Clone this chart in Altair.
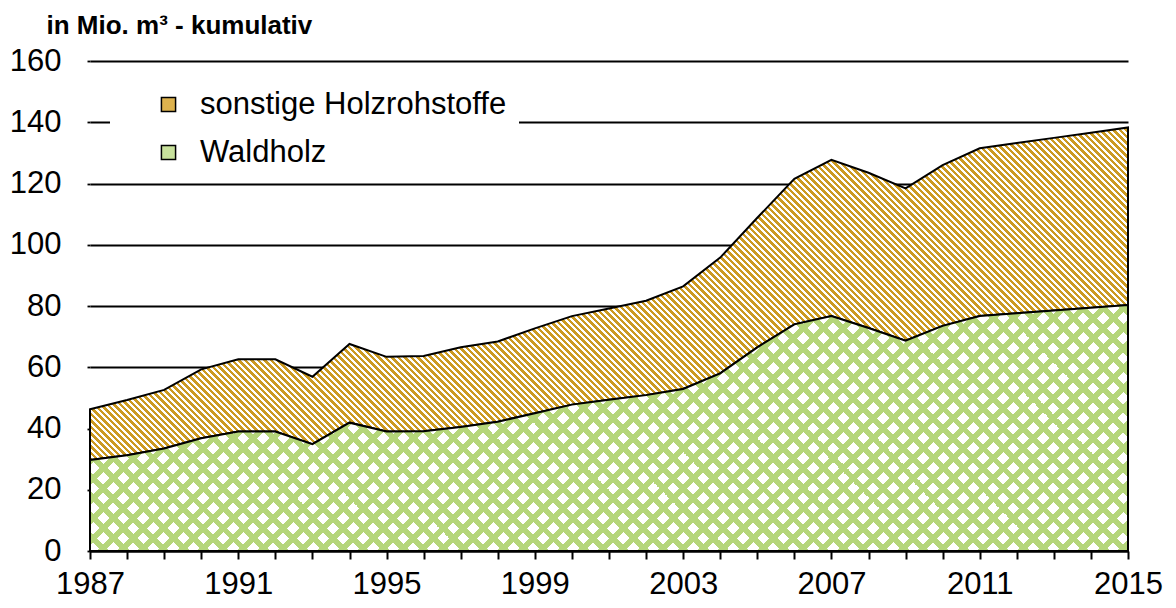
import altair as alt
import pandas as pd

# ---- data ----
years = list(range(1987, 2016))
waldholz = [29.7, 31.3, 33.5, 36.8, 39.0, 39.0, 34.9, 41.9, 39.0, 39.1,
            40.5, 42.2, 45.0, 47.8, 49.4, 50.9, 52.9, 58.0, 66.5, 74.0,
            76.7, 72.8, 68.7, 73.5, 76.7, 77.6, 78.5, 79.4, 80.3]
sonstige = [16.6, 18.0, 19.1, 22.5, 23.6, 23.6, 22.0, 25.7, 24.4, 24.6,
            26.0, 26.2, 27.7, 28.9, 29.8, 30.8, 33.5, 37.8, 42.3, 47.5,
            51.0, 50.7, 49.7, 52.5, 54.8, 55.6, 56.4, 57.2, 58.0]
series_names = ["sonstige Holzrohstoffe", "Waldholz"]
y_ticks = [0, 20, 40, 60, 80, 100, 120, 140, 160]
y_title = "in Mio. m³ - kumulativ"

# ---- styling ----
PLOT_W, PLOT_H = 1038, 490
Y_MAX = 160
GOLD = "#CC9A22"
GREEN = "#B5D67A"
WHITE = "#FFFFFF"
CLEAR = "rgba(255,255,255,0)"
FONT = "Liberation Sans"

df = pd.DataFrame({"year": years, "wald": waldholz, "sonst": sonstige})
df["total"] = df["wald"] + df["sonst"]

px_per_unit = PLOT_H / Y_MAX


def stripes(c1, c2, frac, period, W, H, direction):
    """Linear gradient with hard stops that draws 45-degree stripes."""
    N = (W + H) / period
    stops = []
    k = 0
    while k / N <= 1:
        a = k / N
        b = min((k + frac) / N, 1.0)
        c = min((k + 1) / N, 1.0)
        stops += [(a, c1), (b, c1), (b, c2), (c, c2)]
        k += 1
    r = H / W
    d = (1 + r) / (1 + r * r)
    if direction == "down":
        x1, y1, x2, y2 = 0, 1, d, 1 - r * d
    else:
        x1, y1, x2, y2 = 0, 0, d, r * d
    return {
        "gradient": "linear",
        "x1": x1, "y1": y1, "x2": x2, "y2": y2,
        "stops": [{"offset": round(o, 6), "color": c} for o, c in stops],
    }


H_sonst = (df["total"].max() - df["wald"].min()) * px_per_unit
H_wald = df["wald"].max() * px_per_unit

fill_sonst = stripes(GOLD, WHITE, 0.5, 6.5, PLOT_W, H_sonst, "down")
fill_wald_a = stripes(WHITE, GREEN, 0.6, 20, PLOT_W, H_wald, "up")
fill_wald_b = stripes(CLEAR, GREEN, 0.6, 20, PLOT_W, H_wald, "down")

x_enc = alt.X(
    "year:Q",
    scale=alt.Scale(domain=[1987, 2015], nice=False, zero=False),
    axis=alt.Axis(
        values=years,
        format="d",
        labelExpr="(datum.value - 1987) % 4 == 0 ? datum.label : ''",
        labelOverlap=False,
        labelFlush=False,
        labelFontSize=31,
        labelColor="black",
        labelPadding=10,
        tickSize=8,
        tickWidth=2,
        tickColor="black",
        domainColor="black",
        domainWidth=2,
        grid=False,
        title=None,
    ),
)

y_axis = alt.Axis(
    values=y_ticks,
    grid=True,
    gridColor="black",
    gridWidth=1.8,
    tickSize=3,
    tickWidth=1.8,
    tickColor="black",
    domain=False,
    labelFontSize=31,
    labelColor="black",
    labelPadding=26,
    labelFlush=False,
    title=y_title,
    titleAngle=0,
    titleFontSize=26,
    titleFontWeight="bold",
    titleColor="black",
    titleAlign="left",
    titleBaseline="alphabetic",
    titleX=-44,
    titleY=-28,
)
y_scale = alt.Scale(domain=[0, Y_MAX], nice=False)

base = alt.Chart(df)

sonst_layer = base.mark_area(fill=fill_sonst, stroke="black", strokeWidth=2).encode(
    x=x_enc,
    y=alt.Y("total:Q", scale=y_scale, axis=y_axis, stack=None),
    y2="wald:Q",
)

wald_a = base.mark_area(fill=fill_wald_a).encode(
    x=x_enc,
    y=alt.Y("wald:Q", scale=y_scale, axis=y_axis, stack=None),
)

wald_b = base.mark_area(fill=fill_wald_b, stroke="black", strokeWidth=2).encode(
    x=x_enc,
    y=alt.Y("wald:Q", scale=y_scale, axis=y_axis, stack=None),
)

legend_df = pd.DataFrame({"serie": series_names})
legend_layer = (
    alt.Chart(legend_df)
    .transform_filter("false")
    .mark_square(filled=True, stroke="black", strokeWidth=1.5)
    .encode(
        color=alt.Color(
            "serie:N",
            scale=alt.Scale(domain=series_names, range=["#DDB24E", "#C8E19C"]),
            legend=alt.Legend(
                title=None,
                orient="none",
                legendX=20,
                legendY=16,
                padding=12,
                fillColor="white",
                symbolType="square",
                symbolSize=200,
                symbolStrokeColor="black",
                symbolStrokeWidth=1.5,
                symbolOpacity=1,
                symbolOffset=31,
                labelOffset=16,
                labelFontSize=31,
                labelColor="black",
                labelFont=FONT,
                rowPadding=16,
                labelLimit=600,
            ),
        )
    )
)

chart = (
    alt.layer(sonst_layer, wald_a, wald_b, legend_layer)
    .properties(
        width=PLOT_W,
        height=PLOT_H,
        autosize=alt.AutoSizeParams(type="none"),
        padding={"left": 82, "top": 53, "right": 40, "bottom": 56},
    )
    .configure(font=FONT)
    .configure_view(stroke=None)
)

chart.save("out.html", embed_options={"renderer": "svg", "actions": False})
